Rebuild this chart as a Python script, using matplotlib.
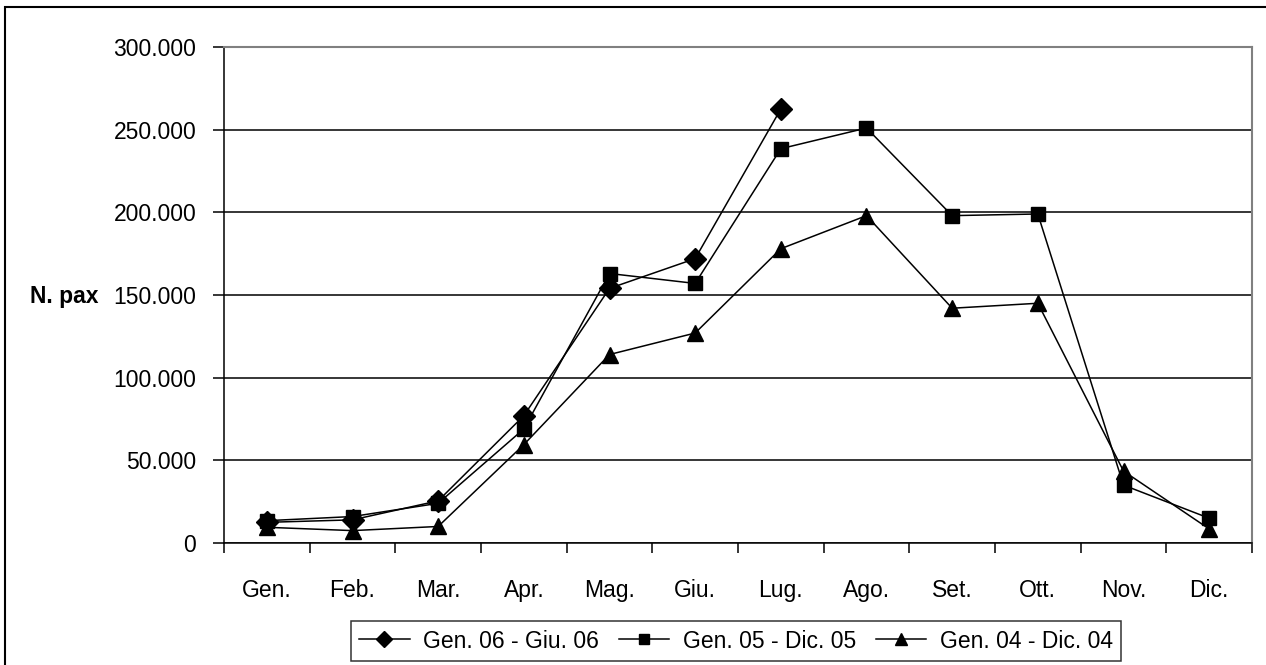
import matplotlib.pyplot as plt
from matplotlib.patches import Rectangle
from matplotlib.ticker import FuncFormatter
import numpy as np

# monthly passengers
months = ['Gen.', 'Feb.', 'Mar.', 'Apr.', 'Mag.', 'Giu.',
          'Lug.', 'Ago.', 'Set.', 'Ott.', 'Nov.', 'Dic.']
pax_2006 = [12500, 14000, 25500, 77000, 154000, 172000, 262500]
pax_2005 = [13500, 16000, 24000, 69000, 163000, 157000, 238500,
            251000, 198000, 199000, 35000, 15000]
pax_2004 = [9500, 7500, 10000, 59500, 114000, 127000, 178000,
            198000, 142000, 145000, 43500, 8500]
labels = ['Gen. 06 - Giu. 06', 'Gen. 05 - Dic. 05', 'Gen. 04 - Dic. 04']
y_ticks = [0, 50000, 100000, 150000, 200000, 250000, 300000]

plt.rcParams['font.family'] = ['Liberation Sans', 'DejaVu Sans']

W, H = 1266, 665
fig = plt.figure(figsize=(W / 100, H / 100), dpi=100)
ax = fig.add_axes([224 / W, 1 - 543 / H, (1252 - 224) / W, 496 / H])

x = np.arange(len(months)) + 0.5
series = [(pax_2006, 'D', 11), (pax_2005, 's', 10), (pax_2004, '^', 11)]
for (vals, mk, ms), lab in zip(series, labels):
    ax.plot(x[:len(vals)], vals, color='black', lw=1.1, marker=mk,
            markersize=ms, markerfacecolor='black', markeredgecolor='black',
            label=lab, zorder=3, clip_on=False)

ax.set_xlim(0, 12)
ax.set_ylim(0, 300000)
ax.set_yticks(y_ticks)
ax.yaxis.set_major_formatter(FuncFormatter(lambda v, p: '{:,.0f}'.format(v).replace(',', '.')))
ax.grid(axis='y', color='black', lw=1.1)
ax.set_axisbelow(True)

# ticks at month boundaries, labels in the middle
ax.set_xticks(np.arange(13))
ax.set_xticklabels([])
ax.set_xticks(x, minor=True)
ax.set_xticklabels(months, minor=True)
ax.tick_params(axis='x', which='major', direction='out', length=7, width=1.1)
ax.tick_params(axis='x', which='minor', length=0, pad=26, labelsize=16.5)
ax.tick_params(axis='y', direction='out', length=8, width=1.1, pad=12, labelsize=16.5)

for s in ['top', 'right']:
    ax.spines[s].set_color('#808080')
    ax.spines[s].set_linewidth(1.5)
for s in ['left', 'bottom']:
    ax.spines[s].set_color('black')
    ax.spines[s].set_linewidth(1.1)

fig.text(30 / W, 1 - 296 / H, 'N. pax', fontsize=16.5, fontweight='bold',
         va='center', ha='left')

leg = ax.legend(loc='center', bbox_to_anchor=(736 / W, 1 - 641 / H),
                bbox_transform=fig.transFigure, ncol=3, fontsize=16.5,
                frameon=True, fancybox=False, handlelength=2.2,
                handletextpad=0.6, columnspacing=0.85, borderpad=0.35,
                borderaxespad=0, markerscale=0.75)
leg.get_frame().set_edgecolor('black')
leg.get_frame().set_linewidth(1.1)

# outer chart border
fig.patches.append(Rectangle((5 / W, -0.1), 1.2, 1 - 7 / H + 0.1,
                             transform=fig.transFigure, fill=False,
                             edgecolor='black', lw=1.5))

fig.savefig('out.png', dpi=100)
